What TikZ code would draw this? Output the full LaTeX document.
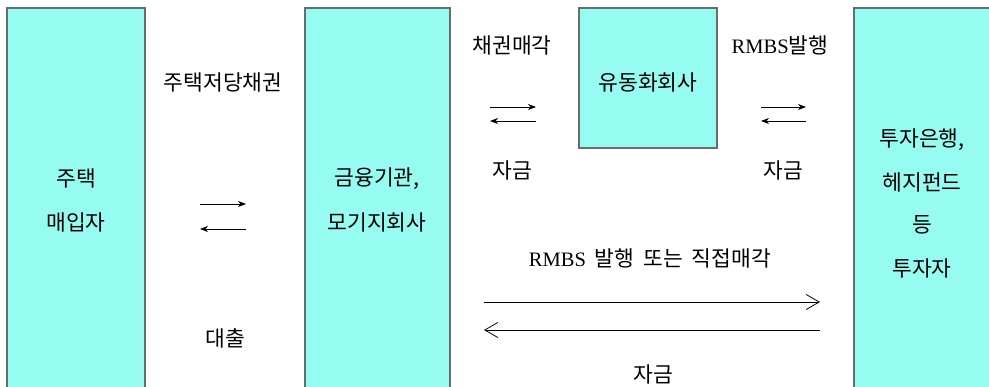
\documentclass[tikz,border=0pt]{standalone}
\usepackage{fontspec}
\setmainfont{Liberation Serif}
\newfontfamily\kr{Noto Sans CJK KR}
\usetikzlibrary{arrows.meta}
\definecolor{boxcyan}{RGB}{150,252,242}
\definecolor{boxline}{RGB}{100,110,110}
\newcommand{\lat}[1]{{\fontsize{20.5}{24}\selectfont\rmfamily #1}}
\begin{document}
\begin{tikzpicture}[x=1pt,y=-1pt,
  party/.style={draw=boxline,line width=1.4pt,fill=boxcyan,inner sep=0pt,outer sep=0pt},
  lbl/.style={font=\fontsize{21.5}{24}\selectfont\kr,inner sep=0pt,anchor=center},
  small/.style={line width=0.8pt,-{Stealth[length=8pt,width=6pt,inset=2.5pt]}},
  long/.style={line width=0.8pt,-{Straight Barb[length=13pt,width=15pt,line width=0.8pt]}}]
\useasboundingbox (0,0) rectangle (989,387);
\clip (0,0) rectangle (989,387);
% boxes
\node[party,minimum width=138pt,minimum height=400pt,anchor=north west] (buyer) at (7,8) {};
\node[party,minimum width=145pt,minimum height=400pt,anchor=north west] (bank) at (305,8) {};
\node[party,minimum width=138pt,minimum height=140pt,anchor=north west] (spc) at (579,8) {};
\node[party,minimum width=160pt,minimum height=400pt,anchor=north west] (inv) at (854,8) {};
% box texts
\node[lbl] (t1) at (76,178) {주택};
\node[lbl] (t2) at (76,222) {매입자};
\node[lbl] (t3) at (377,179) {금융기관,};
\node[lbl] (t4) at (377,222) {모기지회사};
\node[lbl] (t5) at (648,82) {유동화회사};
\node[lbl] (t6) at (922,140) {투자은행,};
\node[lbl] (t7) at (922,182) {헤지펀드};
\node[lbl] (t8) at (922,225) {등};
\node[lbl] (t9) at (922,268) {투자자};
% flow labels
\node[lbl] (l1) at (223,82) {주택저당채권};
\node[lbl] (l2) at (225,338) {대출};
\node[lbl] (l3) at (512,45) {채권매각};
\node[lbl] (l4) at (512,170) {자금};
\node[lbl] (l5) at (780,45) {\lat{RMBS}발행};
\node[lbl] (l6) at (783,170) {자금};
\node[lbl] (l7) at (650,258) {\lat{RMBS}\hspace{0.4em}발행\hspace{0.2em} 또는\hspace{0.2em} 직접매각};
\node[lbl] (l8) at (653,374) {자금};
% arrow end points
\coordinate (a1s) at (200,204); \coordinate (a1e) at (246,204);
\coordinate (a2s) at (246,229); \coordinate (a2e) at (200,229);
\coordinate (b1s) at (490,107); \coordinate (b1e) at (536,107);
\coordinate (b2s) at (536,121); \coordinate (b2e) at (490,121);
\coordinate (c1s) at (761,107); \coordinate (c1e) at (806,107);
\coordinate (c2s) at (806,121); \coordinate (c2e) at (761,121);
\coordinate (d1s) at (484,302); \coordinate (d1e) at (820,302);
\coordinate (d2s) at (820,330); \coordinate (d2e) at (484,330);
\draw[small] (a1s) -- (a1e);
\draw[small] (a2s) -- (a2e);
\draw[small] (b1s) -- (b1e);
\draw[small] (b2s) -- (b2e);
\draw[small] (c1s) -- (c1e);
\draw[small] (c2s) -- (c2e);
\draw[long] (d1s) -- (d1e);
\draw[long] (d2s) -- (d2e);
\end{tikzpicture}
\end{document}
